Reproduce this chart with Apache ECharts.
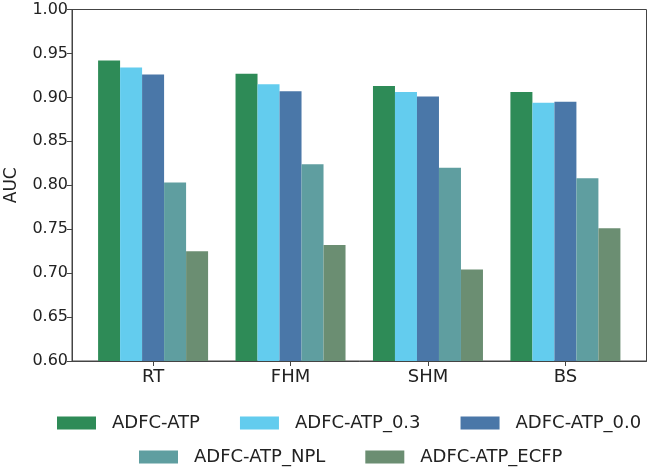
<!DOCTYPE html>
<html>
<head>
<meta charset="utf-8">
<script src="https://cdn.jsdelivr.net/npm/echarts@6/dist/echarts.min.js"></script>
<style>
  html, body { margin: 0; padding: 0; background: #fff; }
  #chart { width: 661px; height: 473px; }
</style>
</head>
<body>
<div id="chart"></div>
<script>
const CATEGORIES = ['RT', 'FHM', 'SHM', 'BS']
const SERIES_NAMES = ['ADFC-ATP', 'ADFC-ATP_0.3', 'ADFC-ATP_0.0', 'ADFC-ATP_NPL', 'ADFC-ATP_ECFP']
const ATP = [0.942, 0.927, 0.913, 0.906]
const ATP_03 = [0.934, 0.915, 0.906, 0.894]
const ATP_00 = [0.926, 0.907, 0.901, 0.895]
const ATP_NPL = [0.803, 0.824, 0.820, 0.808]
const ATP_ECFP = [0.725, 0.732, 0.704, 0.751]

const COLORS = ['#2e8b57', '#63ccee', '#4a77a8', '#5f9ea0', '#6b8e72']
const FONT = 'DejaVu Sans'
const TEXT_COLOR = '#222'
const SPINE_COLOR = '#444'

const seriesValues = [ATP, ATP_03, ATP_00, ATP_NPL, ATP_ECFP]
const catIndex = CATEGORIES.map((_, i) => i)

const legendText = {
  fontFamily: FONT,
  fontSize: 18,
  color: TEXT_COLOR,
  lineHeight: 20,
  padding: [0, 0, 0, 11],
}

const chart = echarts.init(document.getElementById('chart'))
chart.setOption({
  animation: false,
  grid: {
    left: 72,
    right: 14.5,
    top: 9.5,
    bottom: 112,
    containLabel: false,
    outerBoundsMode: 'none',
    show: true,
    borderColor: SPINE_COLOR,
    borderWidth: 1,
  },
  legend: [
    {
      data: SERIES_NAMES.slice(0, 3),
      left: 57,
      top: 413,
      padding: 0,
      itemWidth: 39,
      itemHeight: 13,
      itemGap: 40,
      icon: 'rect',
      textStyle: legendText,
    },
    {
      data: SERIES_NAMES.slice(3),
      left: 139,
      top: 447,
      padding: 0,
      itemWidth: 39,
      itemHeight: 13,
      itemGap: 40,
      icon: 'rect',
      textStyle: legendText,
    },
  ],
  xAxis: {
    type: 'value',
    min: -0.59,
    max: 3.59,
    splitLine: { show: false },
    axisLine: { show: true, onZero: false, lineStyle: { color: SPINE_COLOR, width: 1 } },
    axisTick: {
      show: true,
      customValues: catIndex,
      length: 5,
      lineStyle: { color: SPINE_COLOR },
    },
    axisLabel: {
      customValues: catIndex,
      formatter: (v) => CATEGORIES[Math.round(v)] ?? '',
      fontFamily: FONT,
      fontSize: 18,
      color: TEXT_COLOR,
      margin: 7,
    },
  },
  yAxis: {
    type: 'value',
    min: 0.6,
    max: 1.0,
    interval: 0.05,
    name: 'AUC',
    nameLocation: 'middle',
    nameGap: 52,
    nameTextStyle: { fontFamily: FONT, fontSize: 17, color: TEXT_COLOR },
    splitLine: { show: false },
    axisLine: { show: true, onZero: false, lineStyle: { color: SPINE_COLOR, width: 1 } },
    axisTick: { show: true, length: 5, lineStyle: { color: SPINE_COLOR } },
    axisLabel: {
      formatter: (v) => v.toFixed(2),
      fontFamily: FONT,
      fontSize: 16,
      color: TEXT_COLOR,
      margin: 4,
    },
  },
  series: SERIES_NAMES.map((name, s) => ({
    name,
    type: 'bar',
    barWidth: 22,
    barGap: '0%',
    itemStyle: { color: COLORS[s] },
    data: seriesValues[s].map((v, i) => [i, v]),
  })),
})
</script>
</body>
</html>
